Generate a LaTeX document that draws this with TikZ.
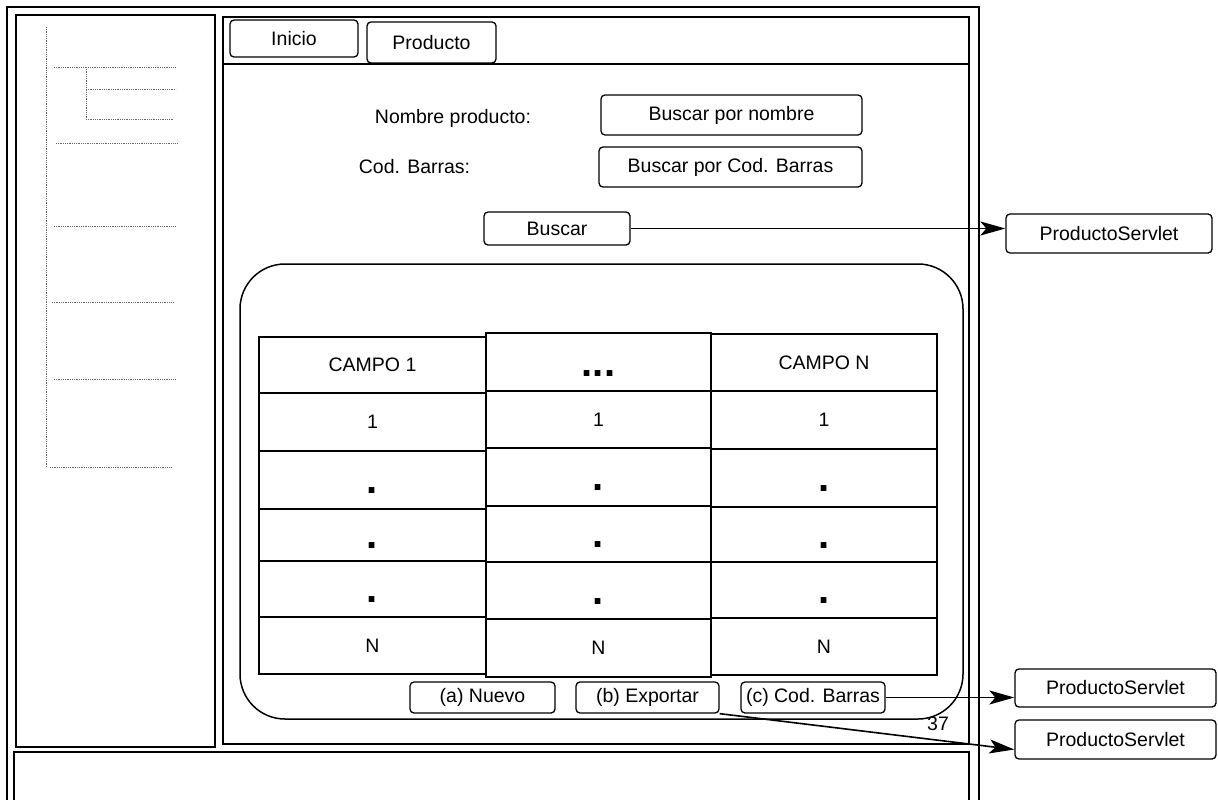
\documentclass[tikz,border=0pt]{standalone}
\usepackage{fontspec}
\setmainfont{Liberation Sans}
\usetikzlibrary{arrows.meta}
\begin{document}
\begin{tikzpicture}[x=1pt,y=-1pt,
  frame/.style={draw, line width=1.8pt},
  btn/.style={draw, line width=1.3pt, rounded corners=4pt, inner sep=0pt, font=\fontsize{19.5}{23}\selectfont},
  txt/.style={inner sep=0pt, font=\fontsize{19.5}{23}\selectfont},
  cell/.style={draw, line width=1.6pt, inner sep=0pt, font=\fontsize{19.5}{23}\selectfont},
  dotc/.style={inner sep=0pt, font=\fontsize{40}{40}\selectfont\bfseries},
  tree/.style={draw=black!60, line width=0.8pt, dash pattern=on 1pt off 0.8pt},
  conn/.style={line width=1.6pt, -{Stealth[length=25pt,width=14pt,inset=6pt]}}
]
\useasboundingbox (0,0) rectangle (1218,800);
\clip (0,0) rectangle (1218,800);

% frames
\draw[frame] (7,7) rectangle (979,820);
\draw[frame] (16,15) rectangle (215,747);
\draw[frame] (223,17) rectangle (969,744);
\draw[frame] (14,752) rectangle (969,820);
\draw[line width=1.6pt] (223,64) -- (969,64);

% left tree
\draw[tree] (46.5,27) -- (46.5,468);
\draw[tree] (54,67) -- (176,67);
\draw[tree] (86,67) -- (86,119);
\draw[tree] (86,89) -- (176,89);
\draw[tree] (86,119) -- (174,119);
\draw[tree] (56,143) -- (178,143);
\draw[tree] (54,226) -- (176,226);
\draw[tree] (52,302) -- (174,302);
\draw[tree] (54,379) -- (176,379);
\draw[tree] (50,467) -- (172,467);

% tabs
\node[btn, minimum width=128, minimum height=37] (inicio) at (294,38.5) {Inicio};
\node[btn, minimum width=129, minimum height=41] (producto) at (431.5,42.5) {Producto};

% search form
\node[txt] (lblnombre) at (453,118) {Nombre producto:};
\node[txt] (lblcod) at (414.5,167) {Cod. Barras:};
\node[btn, minimum width=261, minimum height=40] (bnombre) at (731.5,115) {Buscar por nombre};
\node[btn, minimum width=263, minimum height=40] (bcod) at (730.5,167) {Buscar por Cod. Barras};
\node[btn, minimum width=146, minimum height=33] (buscar) at (557,228.5) {Buscar};
\node[btn, minimum width=206, minimum height=39] (ps1) at (1109,233.5) {ProductoServlet};

% results container
\draw[line width=1.5pt, rounded corners=45pt] (240,264) rectangle (963,719);

% table column 1
\node[cell, minimum width=227, minimum height=56] (c11) at (372.5,365) {CAMPO 1};
\node[cell, minimum width=227, minimum height=58] (c12) at (372.5,422) {1};
\node[cell, minimum width=227, minimum height=58] (c13) at (372.5,480) {};
\node[cell, minimum width=227, minimum height=52] (c14) at (372.5,535) {};
\node[cell, minimum width=227, minimum height=56] (c15) at (372.5,589) {};
\node[cell, minimum width=227, minimum height=57] (c16) at (372.5,645.5) {N};
% column 2
\node[cell, minimum width=225, minimum height=58] (c21) at (598.5,362) {};
\node[cell, minimum width=225, minimum height=57] (c22) at (598.5,419.5) {1};
\node[cell, minimum width=225, minimum height=58] (c23) at (598.5,477) {};
\node[cell, minimum width=225, minimum height=56] (c24) at (598.5,534) {};
\node[cell, minimum width=225, minimum height=57] (c25) at (598.5,590.5) {};
\node[cell, minimum width=225, minimum height=58] (c26) at (598.5,648) {N};
% column 3
\node[cell, minimum width=226, minimum height=57] (c31) at (824,362.5) {CAMPO N};
\node[cell, minimum width=226, minimum height=58] (c32) at (824,420) {1};
\node[cell, minimum width=226, minimum height=58] (c33) at (824,478) {};
\node[cell, minimum width=226, minimum height=55] (c34) at (824,534.5) {};
\node[cell, minimum width=226, minimum height=56] (c35) at (824,590) {};
\node[cell, minimum width=226, minimum height=57] (c36) at (824,646.5) {N};

% dots
\node[dotc] (d21) at ([yshift=-12pt]c21.center) {...};
\foreach \c in {c13,c14,c15,c23,c24,c25,c33,c34,c35}
  \node[dotc] (d\c) at ([yshift=-11pt]\c.center) {.};

% bottom buttons
\node[btn, minimum width=145, minimum height=31] (nuevo) at (482.5,697.5) {(a) Nuevo};
\node[btn, minimum width=143, minimum height=31] (exportar) at (647.5,697.5) {(b) Exportar};
\node[btn, minimum width=144, minimum height=31] (codbarras) at (813,697.5) {(c) Cod. Barras};
\node[btn, minimum width=201, minimum height=38] (ps2) at (1115.5,688) {ProductoServlet};
\node[btn, minimum width=201, minimum height=39] (ps3) at (1115.5,739.5) {ProductoServlet};
\node[txt] (num) at (938,724) {37};

% connectors
\draw[conn] (buscar.east) -- (buscar.east -| ps1.west);
\draw[conn] (codbarras.east) -- (codbarras.east -| ps2.west);
\coordinate (ps3in) at ([yshift=-10pt]ps3.west);
\draw[conn] (exportar.south east) -- (ps3in);
\end{tikzpicture}
\end{document}
